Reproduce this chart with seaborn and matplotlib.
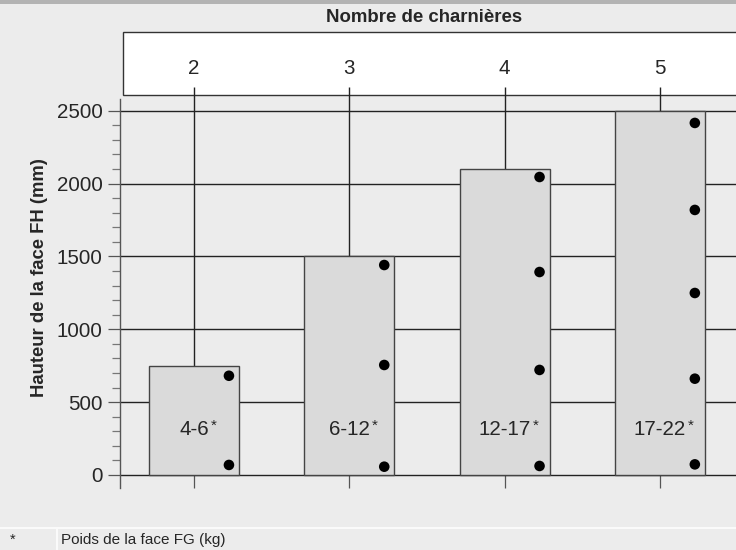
import numpy as np
import pandas as pd
import matplotlib.pyplot as plt
from matplotlib.patches import Rectangle
from matplotlib.lines import Line2D
import seaborn as sns

# hinges count (columns) and maximal face height per column
categories = ['2', '3', '4', '5']
heights = [750, 1500, 2100, 2500]
weight_labels = ['4-6', '6-12', '12-17', '17-22']

# hinge positions drawn as dots in each column
dots_2 = [681, 69]
dots_3 = [1441, 755, 57]
dots_4 = [2045, 1393, 721, 62]
dots_5 = [2416, 1819, 1249, 661, 73]

bg = '#ececec'
sns.set_theme(style='white', rc={'axes.facecolor': bg, 'figure.facecolor': bg})
plt.rcParams['font.family'] = ['Liberation Sans', 'DejaVu Sans']

W, H = 736, 550
fig = plt.figure(figsize=(W / 100, H / 100), dpi=100)

def fx(px):
    return px / W

def fy(py):
    return 1 - py / H

# axes: left spine at x=120, top 99, bottom 488
ax = fig.add_axes([fx(120), fy(488), 1 - fx(120), fy(99) - fy(488)])
ax.set_facecolor(bg)

df_bars = pd.DataFrame({'n': categories, 'h': heights})
sns.barplot(data=df_bars, x='n', y='h', color='#dadada', edgecolor='#444444',
            linewidth=1.0, width=0.58, saturation=1, ax=ax, zorder=3)

dot_lists = [dots_2, dots_3, dots_4, dots_5]
rows = []
for i, vals in enumerate(dot_lists):
    for v in vals:
        rows.append({'pos': i + 0.225, 'h': v})
df_dots = pd.DataFrame(rows)
sns.scatterplot(data=df_dots, x='pos', y='h', color='black', s=58,
                edgecolor='none', ax=ax, zorder=5, legend=False)

unit = 364.3 / 2500
ax.set_ylim(-(488 - 475) / unit, (475 - 99) / unit)
ax.set_xlim(-(194 - 120) / 155.3, (736 - 194) / 155.3)

# vertical column lines, reaching up into the header box
ax.vlines(range(len(categories)), 0, (475 - 87) / unit, color='#222222',
          linewidth=1.0, zorder=1, clip_on=False)

ax.set_yticks(range(0, 2501, 500))
ax.set_yticks(range(0, 2501, 100), minor=True)
ax.yaxis.grid(True, which='major', color='#222222', linewidth=1.0, zorder=1)
ax.set_axisbelow(True)
ax.tick_params(axis='y', which='major', direction='out', length=8.6, width=0.9,
               color='#555555', labelsize=14.8, pad=4, left=True)
ax.tick_params(axis='y', which='minor', direction='out', length=5.8, width=0.9,
               color='#777777', left=True)

ax.set_xticks(range(len(categories)))
ax.set_xticklabels(categories)
ax.tick_params(axis='x', direction='in', length=9.4, width=0.9, color='#555555',
               bottom=True, top=False, labelbottom=False, labeltop=True,
               labelsize=14.8, pad=15)

for side in ['top', 'right', 'bottom']:
    ax.spines[side].set_visible(False)
ax.spines['left'].set_color('#555555')
ax.spines['left'].set_linewidth(1.0)
ax.set_xlabel('')
ax.set_ylabel('')

# weight labels inside the bars, with raised asterisk
for i, lab in enumerate(weight_labels):
    t = ax.text(i, 312, lab, ha='center', va='center', fontsize=14.8, zorder=6)
    ax.annotate('*', xy=(1, 1), xycoords=t, xytext=(1.5, 1), textcoords='offset points',
                ha='left', va='top', fontsize=11, zorder=6)

# header box with title
fig.add_artist(Rectangle((fx(123), fy(95)), 1, fy(32) - fy(95), transform=fig.transFigure,
                         facecolor='white', edgecolor='#333333', linewidth=1.0, zorder=0))
fig.text(fx(424), fy(18), 'Nombre de charnières', ha='center', va='center',
         fontsize=13.4, fontweight='bold')

# top band
fig.add_artist(Rectangle((0, fy(4)), 1, fy(0) - fy(4), transform=fig.transFigure,
                         facecolor='#b3b3b3', edgecolor='none'))

fig.text(fx(40), fy(278), 'Hauteur de la face FH (mm)', rotation=90, ha='center',
         va='center', fontsize=13.3, fontweight='bold')

# footnote row
fig.add_artist(Line2D([0, 1], [fy(528), fy(528)], transform=fig.transFigure,
                      color='#fafafa', linewidth=1.5))
fig.add_artist(Line2D([fx(57), fx(57)], [fy(528), 0], transform=fig.transFigure,
                      color='#fafafa', linewidth=1.5))
fig.text(fx(10), fy(540), '*', ha='left', va='center', fontsize=10.5)
fig.text(fx(61), fy(540), 'Poids de la face FG (kg)', ha='left', va='center', fontsize=11)

fig.savefig('out.png', dpi=100, facecolor=bg)
